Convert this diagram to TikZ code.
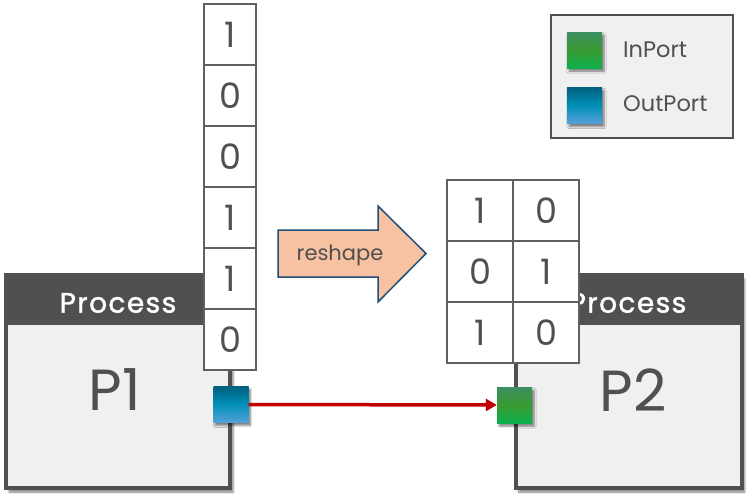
\documentclass[tikz,border=0pt]{standalone}
\usepackage{fontspec}
\setmainfont{Poppins}
\usetikzlibrary{shadows.blur,arrows.meta}
\definecolor{frame}{HTML}{505050}
\definecolor{bodyfill}{HTML}{F0F0F0}
\definecolor{txt}{HTML}{505050}
\definecolor{cellline}{HTML}{606060}
\definecolor{peach}{HTML}{F6C2A2}
\definecolor{arrowline}{HTML}{1F4E79}
\definecolor{linkred}{HTML}{C00000}
\definecolor{gtop}{HTML}{3D8F62}
\definecolor{gmid}{HTML}{3A9A32}
\definecolor{gbot}{HTML}{0DB04E}
\definecolor{btop}{HTML}{00607E}
\definecolor{bmid}{HTML}{0090B8}
\definecolor{bbot}{HTML}{55A0D8}
\begin{document}
\begin{tikzpicture}[x=1pt,y=-1pt,
  procbox/.style={draw=frame,line width=4pt,fill=bodyfill,minimum width=224pt,minimum height=213pt,inner sep=0pt,
    blur shadow={shadow xshift=3pt,shadow yshift=-4pt,shadow blur steps=6,shadow opacity=50}},
  header/.style={fill=frame,draw=frame,line width=0pt,minimum height=51pt,inner sep=0pt},
  headtext/.style={text=white,font=\fontsize{28}{28}\selectfont\addfontfeature{FakeBold=1.5,LetterSpace=5}},
  bigtext/.style={text=txt,font=\fontsize{58}{58}\selectfont},
  cell/.style={draw=cellline,line width=1.5pt,fill=white,minimum width=52pt,minimum height=61pt,inner sep=0pt,text=txt,font=\fontsize{35}{35}\selectfont},
  mcell/.style={cell,minimum width=66pt},
  inport/.style={minimum width=35pt,minimum height=36pt,inner sep=0pt,top color=gtop,bottom color=gbot,middle color=gmid,
    blur shadow={shadow xshift=2pt,shadow yshift=-3pt,shadow blur steps=5,shadow opacity=50}},
  outport/.style={inport,top color=btop,bottom color=bbot,middle color=bmid},
  legtext/.style={text=txt,anchor=west,inner sep=0pt,font=\fontsize{22.5}{22.5}\selectfont},
]
\useasboundingbox (0,0) rectangle (756,504);

% Process P1
\node[procbox] (p1) at (118,381.5) {};
\node[header,minimum width=224pt,anchor=north] (h1) at (p1.north) {};
\node[headtext] (h1t) at (118,303) {Process};
\node[bigtext] (p1t) at (115,390) {P1};

% Process P2
\node[procbox,minimum width=226pt] (p2) at (628.5,381.5) {};
\node[header,minimum width=226pt,anchor=north] (h2) at (p2.north) {};
\node[headtext] (h2t) at (628,303) {Process};
\node[bigtext] (p2t) at (633,390) {P2};

% vector column
\node[cell] (v1) at (230,34.5) {1};
\node[cell] (v2) at (230,95.5) {0};
\node[cell] (v3) at (230,156.5) {0};
\node[cell] (v4) at (230,217.5) {1};
\node[cell] (v5) at (230,278.5) {1};
\node[cell] (v6) at (230,339.5) {0};

% matrix
\node[mcell] (m11) at (480,210.5) {1};
\node[mcell] (m12) at (546,210.5) {0};
\node[mcell] (m21) at (480,271.5) {0};
\node[mcell] (m22) at (546,271.5) {1};
\node[mcell] (m31) at (480,332.5) {1};
\node[mcell] (m32) at (546,332.5) {0};

% reshape arrow
\draw[fill=peach,draw=arrowline,line width=1.5pt,line join=miter]
  (278,230) -- (378,230) -- (378,206) -- (426,253.5) -- (378,302) -- (378,277) -- (278,277) -- cycle;
\node[text=txt,font=\fontsize{21}{21}\selectfont] (rs) at (340,255) {reshape};

% ports
\node[outport] (op) at (231,404.5) {};
\node[inport] (ip) at (514.5,405) {};
\draw[linkred,line width=3.5pt,-{Triangle[length=11pt,width=12pt]}] (op.east) -- (ip.west);

% legend
\node[draw=frame,line width=2pt,fill=bodyfill,minimum width=182pt,minimum height=123pt,inner sep=0pt] (leg) at (642,76.5) {};
\node[inport] (li) at (584.5,50) {};
\node[outport] (lo) at (584.5,105.5) {};
\node[legtext] (lit) at (623,50) {InPort};
\node[legtext] (lot) at (623,104) {OutPort};
\end{tikzpicture}
\end{document}
